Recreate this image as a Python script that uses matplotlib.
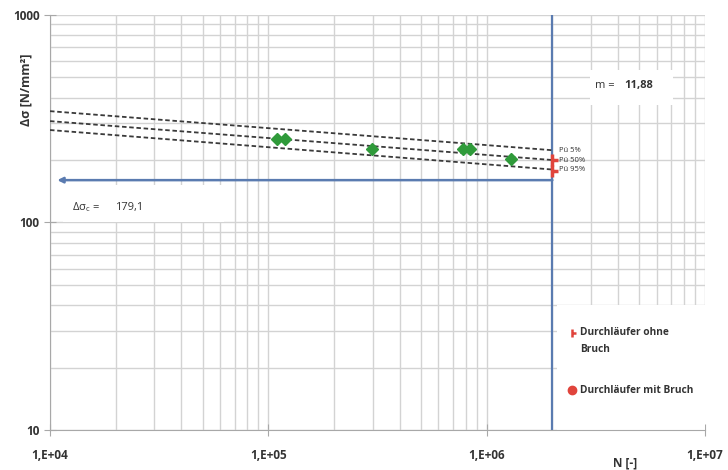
"""Woehler-Diagramm (S-N) mit Streuband und Durchlaeufern."""

import math

import matplotlib
matplotlib.use("Agg")
import matplotlib.pyplot as plt
from matplotlib.patches import Rectangle
from matplotlib.path import Path
from matplotlib.ticker import FixedLocator, FuncFormatter, LogLocator, NullFormatter

plt.rcParams["font.family"] = ["Open Sans", "DejaVu Sans"]
plt.rcParams["mathtext.default"] = "regular"

# Versuchsergebnisse (Bruch)
n_bruch = [1.09e5, 1.19e5, 2.99e5, 7.8e5, 8.4e5, 1.29e6]
s_bruch = [252, 252, 226, 227, 225, 202]

# Durchlaeufer ohne Bruch bei 2e6
n_durch = [2.0e6, 2.0e6]
s_durch = [201, 177]

# Streuband (Pü 5 / 50 / 95 %) zwischen N = 1e4 und N_D
n_band = [1.0e4, 2.0e6]
band = {
    "Pü 5%": [344, 223],
    "Pü 50%": [308, 200],
    "Pü 95%": [279, 180],
}

n_d = 2.0e6
ds_c_line = 160
ds_c_text = "179,1"
m_text = "11,88"

BLUE = "#5a7bb0"
GREEN = "#2f9a3a"
RED = "#e0443c"
GRID = "#d3d3d3"
TXT = "#333333"

fig = plt.figure(figsize=(7.28, 4.70), dpi=100)
ax = fig.add_axes([0.0687, 0.0851, 0.8997, 0.883])
ax.set_xscale("log")
ax.set_yscale("log")
ax.set_xlim(1e4, 1e7)
ax.set_ylim(10, 1000)

ax.xaxis.set_major_locator(FixedLocator([1e4, 1e5, 1e6, 1e7]))
ax.xaxis.set_minor_locator(LogLocator(base=10, subs=range(2, 10)))
ax.yaxis.set_major_locator(FixedLocator([10, 100, 1000]))
ax.yaxis.set_minor_locator(LogLocator(base=10, subs=range(2, 10)))
ax.xaxis.set_minor_formatter(NullFormatter())
ax.yaxis.set_minor_formatter(NullFormatter())
ax.xaxis.set_major_formatter(FuncFormatter(lambda v, p: f"1,E+{int(round(math.log10(v))):02d}"))
ax.yaxis.set_major_formatter(FuncFormatter(lambda v, p: f"{int(v)}"))

ax.grid(which="both", color=GRID, linewidth=1.0)
ax.set_axisbelow(True)
for side in ("top", "right"):
    ax.spines[side].set_visible(False)
for side in ("left", "bottom"):
    ax.spines[side].set_color("#a8a8a8")
ax.tick_params(which="major", direction="inout", length=8, color="#a8a8a8",
               labelsize=8.5, labelcolor=TXT)
ax.tick_params(which="minor", length=0)
ax.tick_params(axis="x", pad=10)
for lab in ax.get_xticklabels() + ax.get_yticklabels():
    lab.set_fontweight("bold")

ax.set_ylabel("Δσ [N/mm²]", fontsize=9, fontweight="bold", color=TXT)
ax.yaxis.set_label_coords(-0.026, 0.82)
ax.text(0.878, -0.08, "N [-]", transform=ax.transAxes, fontsize=8.5,
        fontweight="bold", color=TXT, ha="center", va="center")

# weisse Textfelder ueber dem Gitter
for x0, y0, w, h in [(0.02, 0.50, 0.245, 0.09), (0.824, 0.783, 0.127, 0.084),
                     (0.774, 0.0, 0.226, 0.301)]:
    ax.add_patch(Rectangle((x0, y0), w, h, transform=ax.transAxes,
                           facecolor="white", edgecolor="none", zorder=1.5))

# Streuband
for name, vals in band.items():
    ax.plot(n_band, vals, linestyle=(0, (2.5, 1.5)), color="#3a3a3a",
            linewidth=1.3, zorder=3)
    ax.text(n_band[1] * 1.07, vals[1], name, fontsize=5.5, color=TXT,
            va="center", ha="left", zorder=4)

# Dauerfestigkeit / N_D
ax.axvline(n_d, color=BLUE, linewidth=1.6, zorder=2.5)
ax.annotate("", xy=(1.08e4, ds_c_line), xytext=(n_d, ds_c_line),
            arrowprops=dict(arrowstyle="-|>", color=BLUE, lw=1.8,
                            mutation_scale=8, shrinkA=0, shrinkB=0), zorder=2.5)

ax.text(0.033, 0.537, r"$\Delta\sigma_c$ =", transform=ax.transAxes,
        fontsize=8, color=TXT, va="center", zorder=4)
ax.text(0.099, 0.537, ds_c_text, transform=ax.transAxes, fontsize=8,
        color=TXT, va="center", zorder=4)
ax.text(0.832, 0.829, "m =", transform=ax.transAxes, fontsize=8,
        color=TXT, va="center", zorder=4)
ax.text(0.877, 0.829, m_text, transform=ax.transAxes, fontsize=8,
        fontweight="bold", color=TXT, va="center", zorder=4)

# Messpunkte
ax.plot(n_bruch, s_bruch, linestyle="none", marker="D", markersize=6.5,
        color=GREEN, zorder=5)

runout = Path([(0, -1), (0, 1), (0, 0), (1, 0)],
              [Path.MOVETO, Path.LINETO, Path.MOVETO, Path.LINETO])
ax.plot(n_durch, s_durch, linestyle="none", marker=runout, markersize=9,
        markeredgewidth=2.5, color=RED, zorder=5)

# Legende
ax.plot([0.797], [0.234], transform=ax.transAxes, marker=runout, markersize=6,
        markeredgewidth=1.8, color=RED, zorder=5, clip_on=False)
ax.text(0.809, 0.234, "Durchläufer ohne", transform=ax.transAxes, fontsize=7.3,
        fontweight="bold", color=TXT, va="center", zorder=5)
ax.text(0.809, 0.193, "Bruch", transform=ax.transAxes, fontsize=7.3,
        fontweight="bold", color=TXT, va="center", zorder=5)
ax.plot([0.797], [0.096], transform=ax.transAxes, marker="o", markersize=6,
        color=RED, zorder=5, clip_on=False)
ax.text(0.809, 0.096, "Durchläufer mit Bruch", transform=ax.transAxes,
        fontsize=7.3, fontweight="bold", color=TXT, va="center", zorder=5)

fig.savefig("out.png", dpi=100)
